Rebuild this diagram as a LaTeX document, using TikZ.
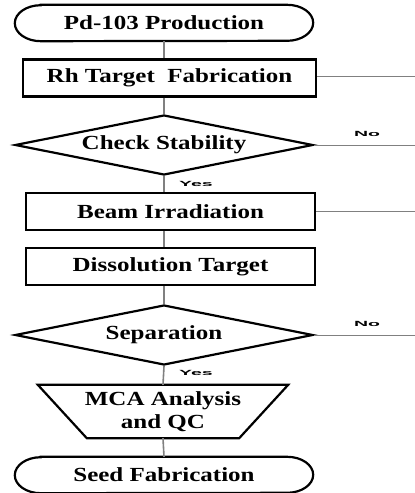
\documentclass[tikz,border=0pt]{standalone}
\usepackage{fontspec}
\setmainfont{Liberation Serif}[FakeStretch=1.25]
\newfontfamily\lblfont{Liberation Sans}[FakeStretch=2.6]
\usetikzlibrary{shapes.geometric}
\newlength{\lw}
\setlength{\lw}{2.2pt}

\begin{document}
\begin{tikzpicture}[x=1pt,y=-1pt,
    every node/.style={font=\fontsize{20}{23}\selectfont\bfseries},
    term/.style={rectangle,minimum width=298pt,minimum height=36pt,inner sep=0pt},
    ends/.style={line width=\lw},
    proc/.style={draw,line width=\lw,rectangle,minimum height=37pt,inner sep=0pt},
    decide/.style={draw,line width=\lw,diamond,aspect=5,minimum width=298pt,minimum height=60pt,inner sep=0pt},
    link/.style={draw=gray,line width=1.6pt},
    side/.style={draw=gray,line width=1pt},
    ans/.style={font=\lblfont\fontsize{7.5}{8}\selectfont\bfseries,inner sep=0pt}]
            \useasboundingbox (0,0) rectangle (415,493);
            \node[term] (start) at (164,23) {Pd-103 Production};
            \draw[ends] ([xshift=26pt]start.north west) -- ([xshift=-26pt]start.north east)
                arc[start angle=90,end angle=-90,x radius=26pt,y radius=18pt]
                -- ([xshift=26pt]start.south west) arc[start angle=270,end angle=90,x radius=26pt,y radius=18pt] -- cycle;
            \node[proc,minimum width=293pt] (rh) at (169.5,78) {Rh Target\ \ Fabrication};
            \node[decide] (check) at (164,145) {Check Stability};
            \node[proc,minimum width=289pt] (beam) at (170.5,211.5) {Beam Irradiation};
            \node[proc,minimum width=289pt] (diss) at (170.5,266.5) {Dissolution Target};
            \node[decide] (sep) at (164,335) {Separation};
            \node[rectangle,minimum width=250pt,minimum height=53pt,inner sep=0pt,align=center] (mca) at (163,411.5) {MCA Analysis\\and QC};
            \draw[line width=\lw,line join=miter] (mca.north west) -- (mca.north east) -- ([xshift=-49pt]mca.south east)
                -- ([xshift=49pt]mca.south west) -- cycle;
            \node[term] (seed) at (164,475) {Seed Fabrication};
            \draw[ends] ([xshift=26pt]seed.north west) -- ([xshift=-26pt]seed.north east)
                arc[start angle=90,end angle=-90,x radius=26pt,y radius=18pt]
                -- ([xshift=26pt]seed.south west) arc[start angle=270,end angle=90,x radius=26pt,y radius=18pt] -- cycle;
            \coordinate (rhend) at (415,76);
            \coordinate (checkend) at (415,145);
            \coordinate (beamend) at (415,211);
            \coordinate (sepend) at (415,335);
            \draw[link] (start.south) -- (start.south |- rh.north);
            \draw[link] (start.south |- rh.south) -- (check.north);
            \draw[link] (check.south) -- (check.south |- beam.north);
            \draw[link] (check.south |- beam.south) -- (check.south |- diss.north);
            \draw[link] (check.south |- diss.south) -- (sep.north);
            \draw[link] (sep.south) -- (mca.north);
            \draw[link] (mca.south) -- (seed.north);
            \draw[side] (rh.east |- rhend) -- (rhend);
            \draw[side] (check.east) -- (checkend);
            \draw[side] (beam.east |- beamend) -- (beamend);
            \draw[side] (sep.east) -- (sepend);
            \node[ans] (no1) at (367,134) {No};
            \node[ans] (no2) at (367,324) {No};
            \node[ans] (yes1) at (196,184) {Yes};
            \node[ans] (yes2) at (196,373) {Yes};
\end{tikzpicture}
\end{document}
